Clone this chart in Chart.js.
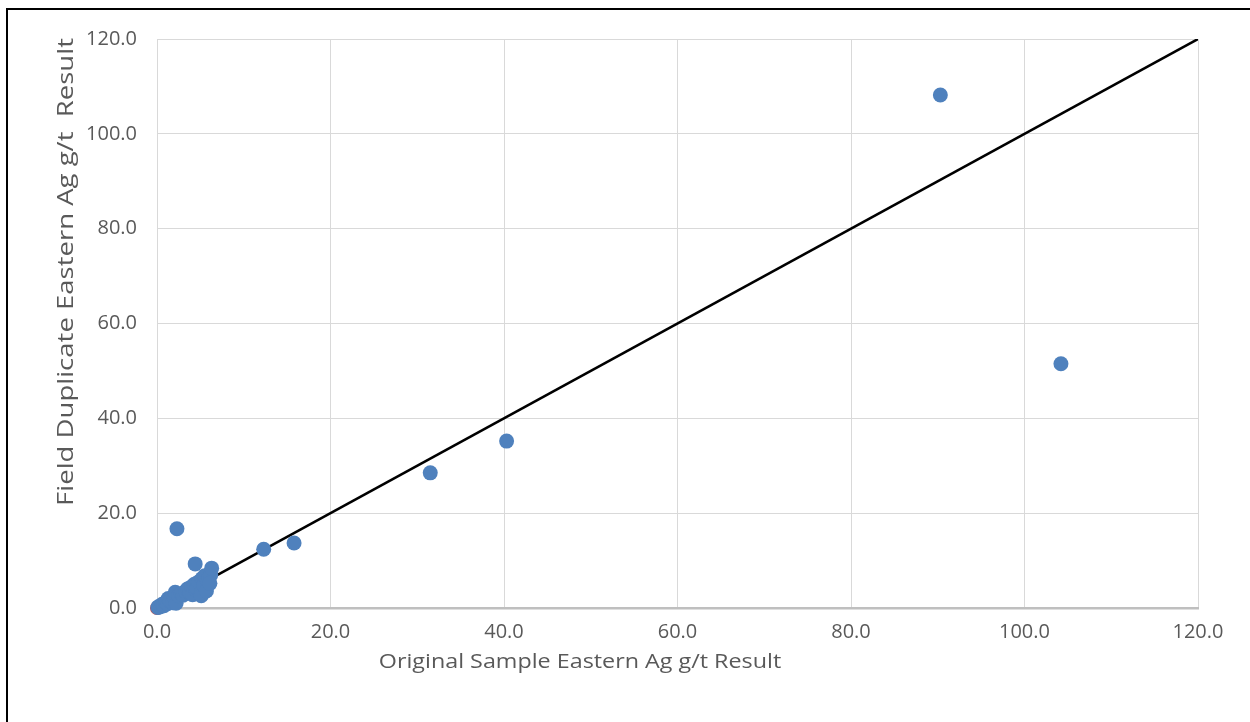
<!DOCTYPE html>
<html>
<head>
<meta charset="utf-8">
<script src="https://cdn.jsdelivr.net/npm/chart.js@4/dist/chart.umd.min.js"></script>
<style>
  html, body { margin: 0; padding: 0; background: #fff; }
  #wrap { position: relative; width: 1250px; height: 722px; }
  #frame { position: absolute; left: 6px; top: 8px; right: -10px; bottom: -10px;
           border-left: 2px solid #000; border-top: 2px solid #000; pointer-events: none; }
</style>
</head>
<body>
<div id="wrap">
  <canvas id="myChart"></canvas>
  <div id="frame"></div>
</div>
<script>
// duplicate pairs: original result (x) vs field duplicate result (y), Ag g/t
const originalAg = [
  0.1, 0.2, 0.3, 0.5, 0.6, 0.8, 1.0, 1.2, 1.3, 1.5, 1.8, 2.0, 2.1, 2.2, 2.5, 2.8,
  3.0, 3.3, 3.5, 3.8, 4.0, 4.1, 4.3, 4.5, 4.6, 4.8, 5.0, 5.1, 5.2, 5.4, 5.5, 5.7,
  5.8, 6.0, 6.2, 6.1, 4.4, 6.3, 2.3, 12.3, 15.8, 31.5, 40.3, 90.3, 104.2
];
const duplicateAg = [
  0.1, 0.3, 0.2, 0.4, 0.8, 0.5, 1.2, 0.9, 2.0, 1.4, 1.1, 2.2, 3.3, 1.0, 2.6, 3.0,
  2.7, 3.5, 4.0, 3.2, 4.5, 2.8, 5.0, 3.8, 4.2, 5.5, 3.0, 2.6, 6.2, 4.8, 6.8, 3.6,
  5.8, 6.4, 7.0, 5.2, 9.3, 8.4, 16.7, 12.4, 13.7, 28.5, 35.2, 108.2, 51.5
];
const lineX = [0, 120];
const lineY = [0, 120];
const tickValues = [0, 20, 40, 60, 80, 100, 120];
const xTitle = 'Original Sample Eastern Ag g/t Result';
const yTitle = 'Field Duplicate Eastern Ag g/t  Result';

const fontFam = '"Open Sans", "DejaVu Sans", sans-serif';
const textCol = '#595959';

// axis titles sit off-centre in the original, and are a bit stretched
const axisTitles = {
  id: 'axisTitles',
  afterDraw(chart) {
    const c = chart.ctx, a = chart.chartArea;
    c.save();
    c.fillStyle = textCol;
    c.textAlign = 'center';
    c.textBaseline = 'middle';
    c.font = '20px ' + fontFam;
    c.save();
    c.translate(a.left + 423, a.bottom + 54);
    c.scale(1.166, 1);
    c.fillText(xTitle, 0, 0);
    c.restore();
    c.translate(67, a.top + 233);
    c.rotate(-Math.PI / 2);
    c.scale(1.31, 1);
    c.font = '21px ' + fontFam;
    c.fillText(yTitle, 0, 0);
    c.restore();
  }
};

const ctx = document.getElementById('myChart').getContext('2d');
const myChart = new Chart(ctx, {
  type: 'scatter',
  data: {
    datasets: [{
      label: 'Ag',
      data: originalAg.map((v, i) => ({ x: v, y: duplicateAg[i] })),
      backgroundColor: '#4f81bd',
      borderColor: '#4f81bd',
      pointRadius: 7.5,
      pointBorderWidth: 0,
      clip: false
    }, {
      label: 'origin',
      data: [{ x: 0, y: 0 }],
      backgroundColor: '#c0504d',
      borderColor: '#c0504d',
      pointRadius: 7,
      pointBorderWidth: 0,
      clip: false
    }, {
      label: '1:1',
      type: 'line',
      data: lineX.map((v, i) => ({ x: v, y: lineY[i] })),
      borderColor: '#000',
      borderWidth: 2.5,
      pointRadius: 0,
      fill: false
    }]
  },
  options: {
    responsive: true,
    maintainAspectRatio: false,
    animation: false,
    layout: { padding: { left: 0, top: 39, right: 52, bottom: 0 } },
    plugins: { legend: { display: false }, tooltip: { enabled: false } },
    scales: {
      x: {
        type: 'linear', min: 0, max: 120,
        afterBuildTicks: s => { s.ticks = tickValues.map(v => ({ value: v })); },
        afterFit: s => { s.height = 114; },
        grid: { color: '#d9d9d9', lineWidth: 1, drawTicks: false },
        border: { color: '#bfbfbf', width: 2.5 },
        ticks: { padding: 12, color: textCol, font: { family: fontFam, size: 20 },
                 callback: v => v.toFixed(1), maxRotation: 0 }
      },
      y: {
        type: 'linear', min: 0, max: 120,
        afterBuildTicks: s => { s.ticks = tickValues.map(v => ({ value: v })); },
        afterFit: s => { s.width = 157; },
        grid: { color: '#d9d9d9', lineWidth: 1, drawTicks: false },
        border: { color: '#d9d9d9', width: 1 },
        ticks: { padding: 20, color: textCol, font: { family: fontFam, size: 20 },
                 callback: v => v.toFixed(1) }
      }
    }
  },
  plugins: [axisTitles]
});
</script>
</body>
</html>
